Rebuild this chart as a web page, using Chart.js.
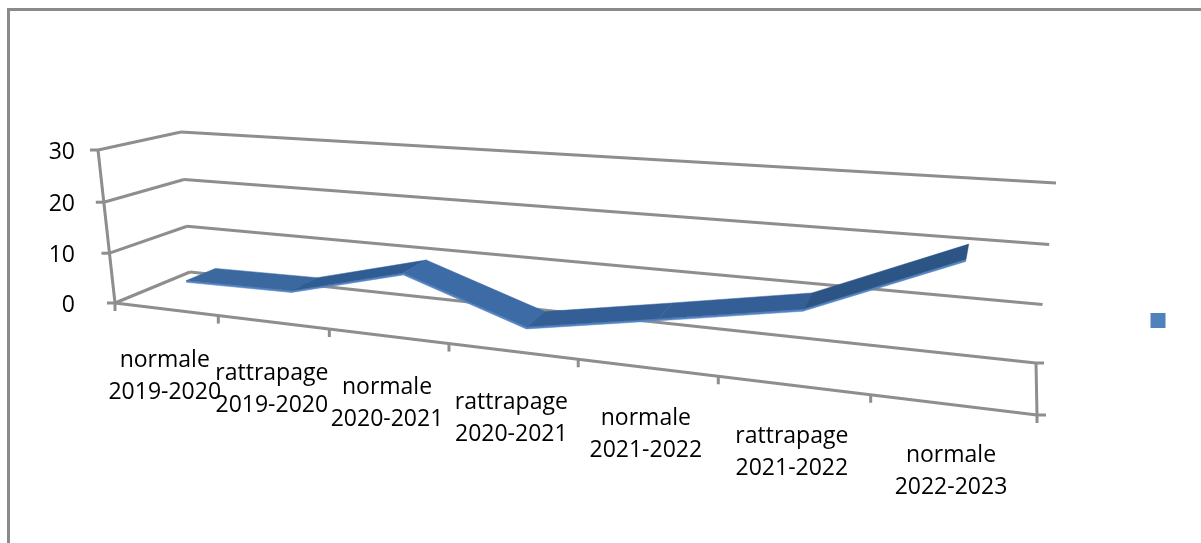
<!DOCTYPE html>
<html>
<head>
<meta charset="utf-8">
<style>
html, body { margin: 0; padding: 0; background: #fff; overflow: hidden; }
#frame { position: absolute; left: 7px; top: 8px; width: 1400px; height: 800px; border: 3px solid #8a8a8a; }
#chart { position: absolute; left: 0; top: 0; }
</style>
</head>
<body>
<div id="frame"></div>
<canvas id="chart" width="1201" height="543"></canvas>
<script src="https://cdn.jsdelivr.net/npm/chart.js@4"></script>
<script>
var categories = [
	['normale', '2019-2020'],
	['rattrapage', '2019-2020'],
	['normale', '2020-2021'],
	['rattrapage', '2020-2021'],
	['normale', '2021-2022'],
	['rattrapage', '2021-2022'],
	['normale', '2022-2023'],
];
var values = [3.8, 4.1, 9.8, 2.2, 6.3, 10.5, 20.9];
var yTicks = [0, 10, 20, 30];

// box corners on screen, used to project the flat chart area in perspective
var frontPlane = { bl: [115, 303], br: [1037, 415], tr: [1059, 216], tl: [98, 150] };
var backPlane = { bl: [190, 272], br: [1036, 363], tr: [1056, 183], tl: [181, 132] };
var lineDepth = [0.31, 0.71]; // ribbon position between front and back
var gray = '#8e8e8e';
var segColors = ['#3a689f', '#2f5c92', '#3c6ba6', '#335f96', '#335f96', '#2c5485'];

// unit square -> quad
function quadMap(q) {
	var x0 = q.bl[0], y0 = q.bl[1], x1 = q.br[0], y1 = q.br[1];
	var x2 = q.tr[0], y2 = q.tr[1], x3 = q.tl[0], y3 = q.tl[1];
	var sx = x0 - x1 + x2 - x3, sy = y0 - y1 + y2 - y3;
	var dx1 = x1 - x2, dx2 = x3 - x2, dy1 = y1 - y2, dy2 = y3 - y2;
	var den = dx1 * dy2 - dx2 * dy1;
	var g = (sx * dy2 - dx2 * sy) / den;
	var h = (dx1 * sy - sx * dy1) / den;
	var a = x1 - x0 + g * x1, b = x3 - x0 + h * x3;
	var d = y1 - y0 + g * y1, e = y3 - y0 + h * y3;
	return function (u, v) {
		var w = g * u + h * v + 1;
		return [(a * u + b * v + x0) / w, (d * u + e * v + y0) / w];
	};
}
var toFront = quadMap(frontPlane);
var toBack = quadMap(backPlane);

function project(u, v, depth) {
	var f = toFront(u, v), b = toBack(u, v);
	return [f[0] + (b[0] - f[0]) * depth, f[1] + (b[1] - f[1]) * depth];
}

function line(ctx, a, b) {
	ctx.beginPath();
	ctx.moveTo(a[0], a[1]);
	ctx.lineTo(b[0], b[1]);
	ctx.stroke();
}

function poly(ctx, pts, color) {
	ctx.fillStyle = color;
	ctx.strokeStyle = color;
	ctx.lineWidth = 0.5;
	ctx.beginPath();
	pts.forEach(function (p, i) {
		if (i === 0) ctx.moveTo(p[0], p[1]);
		else ctx.lineTo(p[0], p[1]);
	});
	ctx.closePath();
	ctx.fill();
	ctx.stroke();
}

var box3d = {
	id: 'box3d',
	beforeDatasetsDraw: function (chart) {
		var ctx = chart.ctx, area = chart.chartArea;
		var xs = chart.scales.x, ys = chart.scales.y;
		var vOf = function (val) { return (area.bottom - ys.getPixelForValue(val)) / area.height; };
		var uOf = function (px) { return (px - area.left) / area.width; };
		var step = area.width / categories.length;

		ctx.save();
		ctx.lineCap = 'butt';
		ctx.strokeStyle = gray;
		ctx.lineWidth = 3;

		// walls and gridlines
		yTicks.forEach(function (t) {
			var v = vOf(t);
			line(ctx, project(0, v, 0), project(0, v, 1));
			line(ctx, project(0, v, 1), project(1, v, 1));
			var p = project(0, v, 0);
			line(ctx, [p[0] - 8, p[1]], p);
		});
		line(ctx, project(0, 0, 0), project(0, 1, 0));
		line(ctx, project(0, 0, 0), project(1, 0, 0));
		line(ctx, project(1, 0, 0), project(1, 0, 1));
		var cb = project(1, 0, 1), cf = project(1, 0, 0);
		line(ctx, cb, [cb[0] + 8, cb[1]]);
		line(ctx, cf, [cf[0] + 9, cf[1]]);

		// category ticks on the front edge
		categories.forEach(function (c, i) {
			var p = project(uOf(xs.getPixelForValue(i) - step / 2), 0, 0);
			line(ctx, p, [p[0], p[1] + 8]);
		});
		line(ctx, cf, [cf[0], cf[1] + 8]);

		// ribbon for the series, taken from the points of the dataset
		var pts = chart.getDatasetMeta(0).data.map(function (el) {
			return { u: uOf(el.x), v: (area.bottom - el.y) / area.height };
		});
		var drop = vOf(0.35) - vOf(0);
		for (var i = 0; i < pts.length - 1; i++) {
			var a = pts[i], b = pts[i + 1];
			poly(ctx, [
				project(a.u, a.v, lineDepth[0]), project(b.u, b.v, lineDepth[0]),
				project(b.u, b.v - drop, lineDepth[0]), project(a.u, a.v - drop, lineDepth[0]),
			], '#5485c4');
			poly(ctx, [
				project(a.u, a.v, lineDepth[0]), project(b.u, b.v, lineDepth[0]),
				project(b.u, b.v, lineDepth[1]), project(a.u, a.v, lineDepth[1]),
			], segColors[i]);
		}

		// tick labels
		ctx.fillStyle = '#000';
		ctx.font = '23px "Open Sans"';
		ctx.textBaseline = 'middle';
		ctx.textAlign = 'right';
		yTicks.forEach(function (t) {
			var p = project(0, vOf(t), 0);
			ctx.fillText(String(t), 75, p[1] + 2);
		});
		ctx.textAlign = 'center';
		categories.forEach(function (c, i) {
			var p = project(uOf(xs.getPixelForValue(i)), 0, 0);
			ctx.fillText(c[0], p[0] - 1, p[1] + 51);
			ctx.fillText(c[1], p[0] - 1, p[1] + 83);
		});
		ctx.restore();
	},
};

new Chart(document.getElementById('chart'), {
	type: 'line',
	data: {
		labels: categories.map(function (c) { return c.join(' '); }),
		datasets: [{
			label: '',
			data: values,
			showLine: false,
			pointRadius: 0,
			borderWidth: 0,
			backgroundColor: '#4f81bd',
		}],
	},
	options: {
		responsive: false,
		animation: false,
		layout: { padding: { top: 98, right: 25 } },
		plugins: {
			tooltip: { enabled: false },
			legend: {
				position: 'right',
				labels: { boxWidth: 15, boxHeight: 15, padding: 5, font: { size: 1 } },
			},
		},
		scales: {
			x: { display: false, offset: true },
			y: { display: false, min: 0, max: 30, ticks: { stepSize: 10 } },
		},
	},
	plugins: [box3d],
});
</script>
</body>
</html>
